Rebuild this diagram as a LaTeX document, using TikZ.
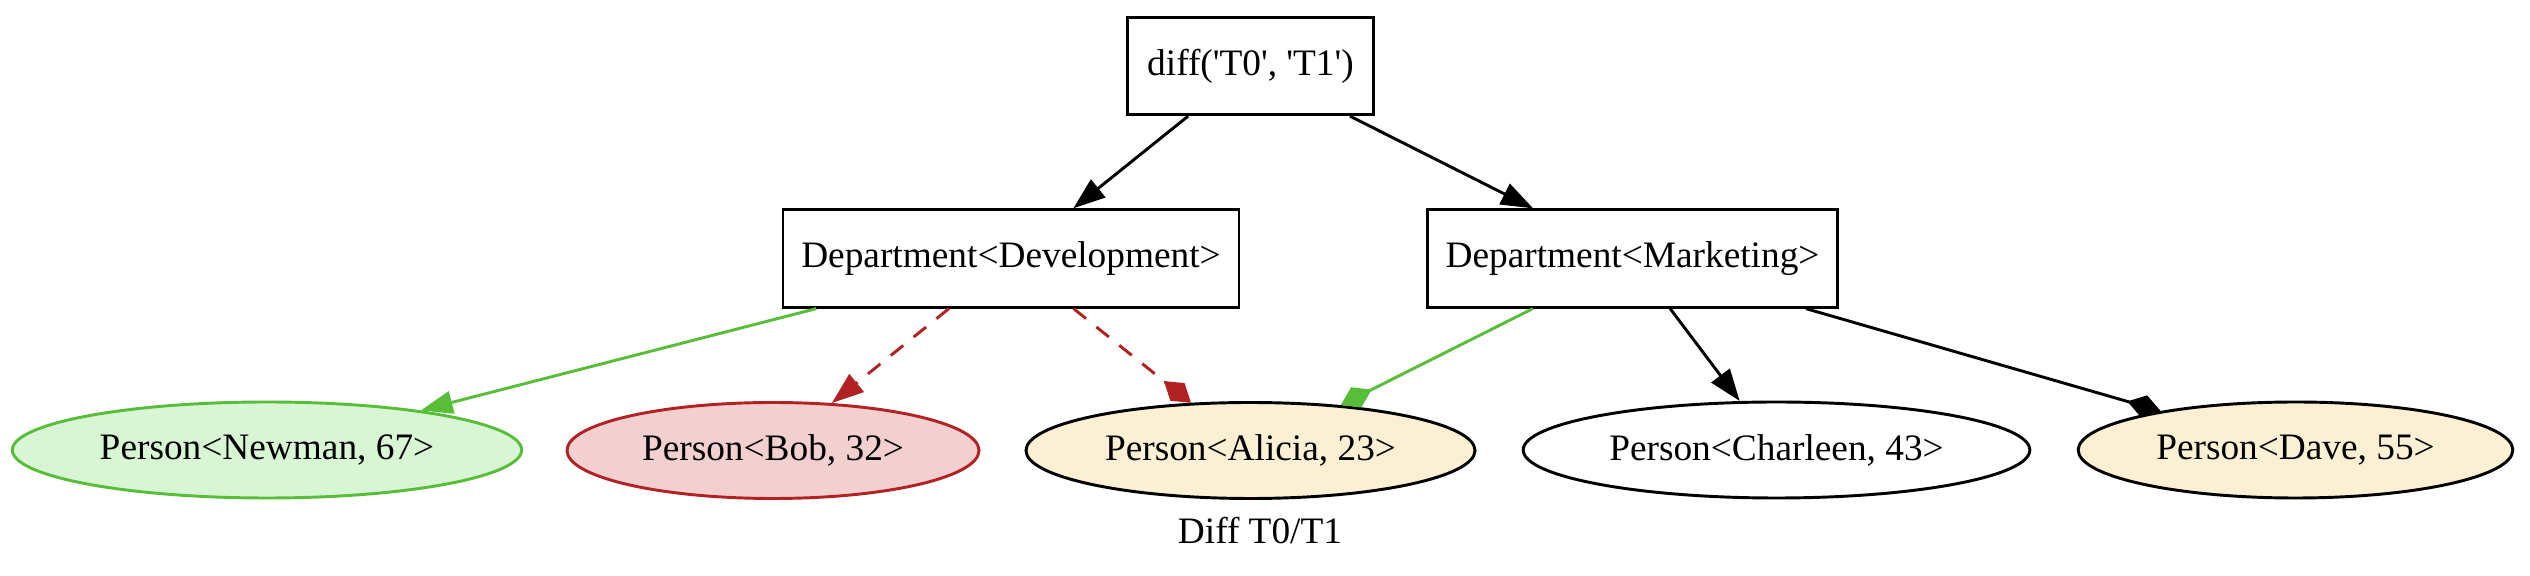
\documentclass[tikz,border=0pt]{standalone}
\usepackage{fontspec}
\setmainfont{Liberation Serif}
\usetikzlibrary{arrows.meta, shapes.geometric}
\definecolor{addgreen}{RGB}{88,190,58}
\definecolor{addfill}{RGB}{217,246,212}
\definecolor{delred}{RGB}{178,34,34}
\definecolor{delfill}{RGB}{242,208,208}
\definecolor{movfill}{RGB}{252,240,212}
\begin{document}
\begin{tikzpicture}[x=0.375pt, y=-0.375pt,
		every node/.style={font=\fontsize{14}{16}\selectfont},
		box/.style={draw, rectangle, line width=1.1pt, minimum height=36.5pt},
		person/.style={draw, ellipse, line width=1.1pt, minimum height=36pt},
		link/.style={line width=1.1pt, -{Triangle[length=12pt, width=8.5pt]}},
		linkdia/.style={line width=1.1pt, -{Diamond[length=13pt, width=8.5pt]}},
		gone/.style={delred, dash pattern=on 6pt off 5pt}]
		\useasboundingbox (0, 0) rectangle (2530, 576);
		\node[box, minimum width=92pt] (diff) at (1250.5, 66)
			{diff(\textquotesingle T0\textquotesingle, \textquotesingle T1\textquotesingle)};
		\node[box, minimum width=171pt] (dev) at (1011, 258.5) {Department<Development>};
		\node[box, minimum width=154pt] (mkt) at (1632.5, 258.5) {Department<Marketing>};
		\node[person, minimum width=191pt, draw=addgreen, fill=addfill] (newman) at (267, 450) {Person<Newman, 67>};
		\node[person, minimum width=154.5pt, draw=delred, fill=delfill] (bob) at (773, 450.5) {Person<Bob, 32>};
		\node[person, minimum width=168.4pt, fill=movfill] (alicia) at (1250.5, 450.5) {Person<Alicia, 23>};
		\node[person, minimum width=190pt] (charleen) at (1776.5, 450) {Person<Charleen, 43>};
		\node[person, minimum width=163pt, fill=movfill] (dave) at (2295.5, 450) {Person<Dave, 55>};
		\node (caption) at (1260, 531) {Diff T0/T1};
		\draw[link] (diff) -- (dev);
		\draw[link] (diff) -- (mkt);
		\draw[link, addgreen] (dev) -- (newman);
		\draw[link, gone] (dev) -- (bob);
		\draw[linkdia, gone] (dev) -- (alicia);
		\draw[linkdia, addgreen] (mkt) -- (alicia);
		\draw[link] (mkt) -- (charleen);
		\draw[linkdia] (mkt) -- (dave);
	\end{tikzpicture}
\end{document}
